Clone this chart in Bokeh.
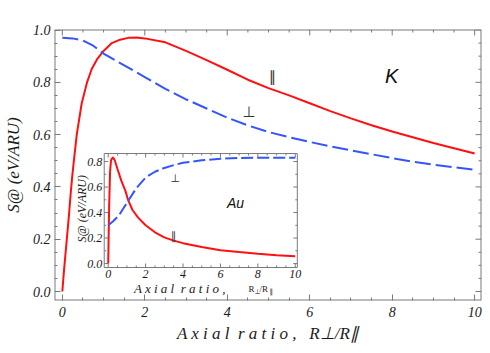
import math
from bokeh.plotting import figure
from bokeh.models import Range1d, FixedTicker, PrintfTickFormatter
from bokeh.core.properties import value
from bokeh.embed import file_html
from bokeh.resources import INLINE

# ---------------- data ----------------
main_par_x = [0, 0.04, 0.08, 0.12, 0.16, 0.2, 0.24, 0.28, 0.35, 0.47, 0.6, 0.71, 0.85,
              1.0, 1.2, 1.4, 1.6, 1.8, 2.0, 2.5, 3.0, 3.5, 4.0, 4.5, 5.0, 5.5, 6.0,
              6.5, 7.0, 7.5, 8.0, 8.5, 9.0, 9.5, 10.0]
main_par_y = [0.0, 0.08, 0.15, 0.22, 0.29, 0.37, 0.44, 0.5, 0.6, 0.72, 0.8, 0.85, 0.89,
              0.92, 0.95, 0.963, 0.97, 0.971, 0.968, 0.953, 0.92, 0.885, 0.848, 0.81, 0.778,
              0.75, 0.72, 0.69, 0.662, 0.636, 0.612, 0.59, 0.568, 0.548, 0.528]

main_perp_x = [0, 0.25, 0.5, 0.75, 1.0, 1.5, 2.0, 2.5, 3.0, 3.5, 4.0, 4.5, 5.0, 5.5,
               6.0, 6.5, 7.0, 7.5, 8.0, 8.5, 9.0, 9.5, 10.0]
main_perp_y = [0.970, 0.968, 0.96, 0.94, 0.91, 0.865, 0.82, 0.775, 0.735, 0.70, 0.665,
               0.635, 0.61, 0.59, 0.572, 0.555, 0.54, 0.525, 0.51, 0.496, 0.485, 0.475, 0.466]

inset_par_x = [0, 0.05, 0.1, 0.15, 0.25, 0.35, 0.5, 0.7, 0.92, 1.06, 1.3, 1.6, 2.0, 2.5,
               3.0, 3.5, 4.0, 5.0, 6.0, 7.0, 8.0, 9.0, 10.0]
inset_par_y = [0.0, 0.45, 0.72, 0.81, 0.834, 0.81, 0.74, 0.65, 0.57, 0.5, 0.42, 0.36, 0.3,
               0.245, 0.205, 0.18, 0.16, 0.13, 0.105, 0.09, 0.077, 0.066, 0.058]

inset_perp_x = [0, 0.25, 0.57, 0.8, 1.06, 1.5, 2.0, 2.5, 3.0, 3.58, 4.0, 5.0, 6.0, 7.0,
                8.0, 9.0, 10.0]
inset_perp_y = [0.3, 0.33, 0.376, 0.43, 0.49, 0.59, 0.675, 0.72, 0.75, 0.775, 0.79, 0.81,
                0.822, 0.828, 0.83, 0.83, 0.83]

main_x_ticks = [0, 2, 4, 6, 8, 10]
main_y_ticks = [0.0, 0.2, 0.4, 0.6, 0.8, 1.0]
inset_x_ticks = [0, 2, 4, 6, 8, 10]
inset_y_ticks = [0.0, 0.2, 0.4, 0.6, 0.8]
inset_x_labels = ["0", "2", "4", "6", "8", "10"]
inset_y_labels = ["0.0", "0.2", "0.4", "0.6", "0.8"]

x_title = "A x i a l\u00a0\u00a0r a t i o ,\u00a0\u00a0\u00a0R\u22a5/R\u2225"
y_title = "S@ (eV/ARU)"

RED = "#ff1010"
BLUE = "#3355ff"
FRAME = "#7a7a7a"
INK = "#1a1a1a"
SERIF = "Liberation Serif"
SYM = "DejaVu Sans"

main_x_minor = [i * 0.5 for i in range(21) if (i * 0.5) not in main_x_ticks]
main_y_minor = [round(i * 0.05, 2) for i in range(21) if i % 4 != 0]
inset_x_minor = [i * 0.5 for i in range(21) if (i * 0.5) not in inset_x_ticks]
inset_y_minor = [round(i * 0.1, 2) for i in range(9) if i % 2 == 1]

# ---------------- main figure ----------------
X0, X1 = -0.19, 10.166
Y0, Y1 = -0.0344, 1.002
p = figure(width=482, height=345, x_range=(X0, X1), y_range=(Y0, Y1),
           output_backend="svg", toolbar_location=None,
           min_border_left=52, min_border_top=29, min_border_right=1, min_border_bottom=45)
p.xgrid.visible = False
p.ygrid.visible = False
p.outline_line_color = None
p.background_fill_color = "white"

for ax, major, minor in ((p.xaxis[0], main_x_ticks, main_x_minor),
                         (p.yaxis[0], main_y_ticks, main_y_minor)):
    ax.ticker = FixedTicker(ticks=major, minor_ticks=minor)
    ax.axis_line_color = None
    ax.major_tick_line_color = FRAME
    ax.minor_tick_line_color = FRAME
    ax.major_tick_in = 6
    ax.major_tick_out = 0
    ax.minor_tick_in = 3
    ax.minor_tick_out = 0
    ax.major_label_text_font = SERIF
    ax.major_label_text_font_style = "italic"
    ax.major_label_text_font_size = "14px"
    ax.major_label_text_color = INK
    ax.axis_label_text_font = SERIF
    ax.axis_label_text_font_style = "italic"
    ax.axis_label_text_font_size = "17px"
    ax.axis_label_text_color = INK

p.xaxis[0].major_label_standoff = 6
p.xaxis[0].axis_label = x_title
p.xaxis[0].axis_label_standoff = 4
p.yaxis[0].major_label_standoff = 4
p.yaxis[0].formatter = PrintfTickFormatter(format="%.1f")
p.yaxis[0].axis_label = y_title
p.yaxis[0].axis_label_standoff = 7

# frame box (clipped to the plot area, so half of the 2px stroke shows)
p.quad(left=[X0], right=[X1], bottom=[Y0], top=[Y1], fill_color=None,
       line_color=FRAME, line_width=2)

# mirrored inward ticks on the top and right edges
tick_kw = dict(line_color=FRAME, line_width=1, length_units="screen", angle_units="deg")
p.ray(x=main_x_ticks, y=[Y1] * len(main_x_ticks), length=6, angle=-90, **tick_kw)
p.ray(x=main_x_minor, y=[Y1] * len(main_x_minor), length=3, angle=-90, **tick_kw)
p.ray(x=[X1] * len(main_y_ticks), y=main_y_ticks, length=6, angle=180, **tick_kw)
p.ray(x=[X1] * len(main_y_minor), y=main_y_minor, length=3, angle=180, **tick_kw)

p.line(main_par_x, main_par_y, line_color=RED, line_width=2)
p.line(main_perp_x, main_perp_y, line_color=BLUE, line_width=2, line_dash="16 5")

p.text(x=[5.10], y=[0.822], text=["\u2225"], text_font=value(SYM), text_font_size="15px",
       text_color="#333333", text_align="center", text_baseline="middle")
p.text(x=[4.52], y=[0.688], text=["\u22a5"], text_font=value(SYM), text_font_size="15px",
       text_color="#333333", text_align="center", text_baseline="middle")
p.text(x=[7.99], y=[0.826], text=["K"], text_font=value("Liberation Sans"), text_font_style="italic",
       text_font_size="20px", text_color="#111111", text_align="center", text_baseline="middle")

# ---------------- inset ----------------
IX0, IX1 = -0.213, 10.11
IY0, IY1 = -0.031, 0.863
ins = p.subplot(x_source=Range1d(IX0, IX1), y_source=Range1d(IY0, IY1),
                x_target=Range1d(1.016, 5.699), y_target=Range1d(0.0918, 0.5277))

ins.quad(left=[IX0], right=[IX1], bottom=[IY0], top=[IY1], fill_color="white",
         line_color=FRAME, line_width=1)

nx, nxm = len(inset_x_ticks), len(inset_x_minor)
ny, nym = len(inset_y_ticks), len(inset_y_minor)
ins.ray(x=inset_x_ticks, y=[IY0] * nx, length=4, angle=90, **tick_kw)
ins.ray(x=inset_x_ticks, y=[IY1] * nx, length=4, angle=-90, **tick_kw)
ins.ray(x=inset_x_minor, y=[IY0] * nxm, length=2, angle=90, **tick_kw)
ins.ray(x=inset_x_minor, y=[IY1] * nxm, length=2, angle=-90, **tick_kw)
ins.ray(x=[IX0] * ny, y=inset_y_ticks, length=4, angle=0, **tick_kw)
ins.ray(x=[IX1] * ny, y=inset_y_ticks, length=4, angle=180, **tick_kw)
ins.ray(x=[IX0] * nym, y=inset_y_minor, length=2, angle=0, **tick_kw)
ins.ray(x=[IX1] * nym, y=inset_y_minor, length=2, angle=180, **tick_kw)

lab_kw = dict(text_font=value(SERIF), text_font_style="italic", text_color=INK)
ins.text(x=inset_x_ticks, y=[IY0] * nx, text=inset_x_labels, y_offset=2, text_align="center",
         text_baseline="top", text_font_size="12px", **lab_kw)
ins.text(x=[IX0] * ny, y=inset_y_ticks, text=inset_y_labels, x_offset=-2, text_align="right",
         text_baseline="middle", text_font_size="12px", **lab_kw)

ins.line(inset_par_x, inset_par_y, line_color=RED, line_width=2)
ins.line(inset_perp_x, inset_perp_y, line_color=BLUE, line_width=2, line_dash="12 4")

ins.text(x=[3.59], y=[0.667], text=["\u22a5"], text_font=value(SYM), text_font_size="11px",
         text_color="#333333", text_align="center", text_baseline="middle")
ins.text(x=[3.51], y=[0.212], text=["\u2225"], text_font=value(SYM), text_font_size="11px",
         text_color="#333333", text_align="center", text_baseline="middle")
ins.text(x=[6.81], y=[0.471], text=["Au"], text_font=value("Liberation Sans"),
         text_font_style="italic", text_font_size="14px", text_color="#111111",
         text_align="center", text_baseline="middle")

ins.text(x=[IX0], y=[0.43], x_offset=-22, text=[y_title], angle=math.pi / 2,
         text_align="center", text_baseline="middle", text_font_size="12px", **lab_kw)
ins.text(x=[1.38], y=[IY0], y_offset=21, text=["A x i a l\u00a0\u00a0r a t i o ,"],
         text_align="left", text_baseline="alphabetic", text_font_size="13px", **lab_kw)
QX = 7.5
ins.text(x=[QX], y=[IY0], y_offset=21, text=["R"], text_align="left", text_baseline="alphabetic",
         text_font=value(SERIF), text_font_size="9px", text_color=INK)
ins.text(x=[QX], y=[IY0], x_offset=6, y_offset=24, text=["\u22a5"], text_align="left",
         text_baseline="alphabetic", text_font=value(SYM), text_font_size="7px", text_color=INK)
ins.text(x=[QX], y=[IY0], x_offset=11, y_offset=21, text=["/R"], text_align="left",
         text_baseline="alphabetic", text_font=value(SERIF), text_font_size="9px", text_color=INK)
ins.text(x=[QX], y=[IY0], x_offset=21, y_offset=24, text=["\u2225"], text_align="left",
         text_baseline="alphabetic", text_font=value(SYM), text_font_size="7px", text_color=INK)

open("out.html", "w").write(file_html(p, INLINE))
